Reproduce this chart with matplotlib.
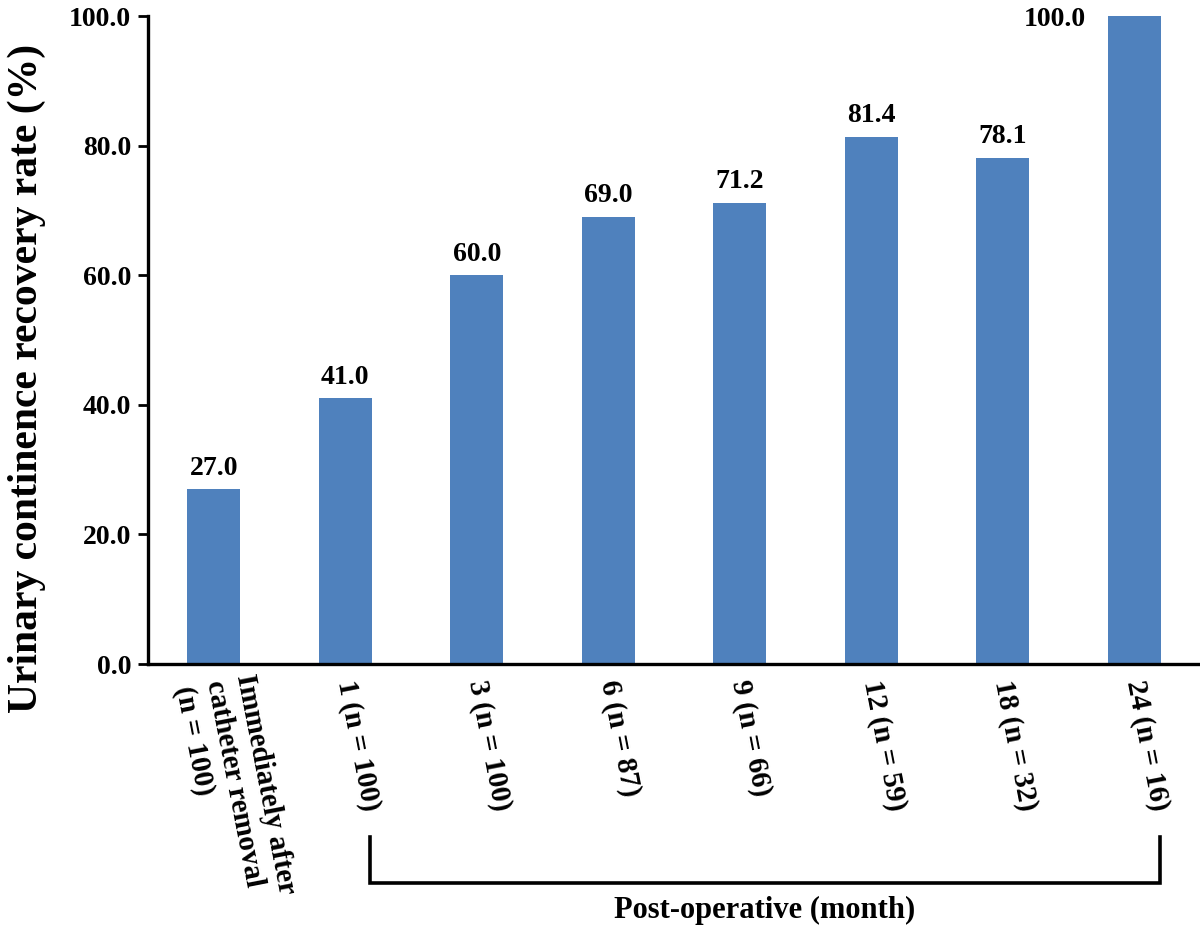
import matplotlib
matplotlib.use("Agg")
import matplotlib.pyplot as plt
import matplotlib.transforms as mtransforms

plt.rcParams["font.family"] = ["Liberation Serif", "DejaVu Serif"]

categories = ["Immediately after\ncatheter removal\n(n = 100)", "1 (n = 100)", "3 (n = 100)",
              "6 (n = 87)", "9 (n = 66)", "12 (n = 59)", "18 (n = 32)", "24 (n = 16)"]
rates = [27.0, 41.0, 60.0, 69.0, 71.2, 81.4, 78.1, 100.0]
yticks = [0, 20, 40, 60, 80, 100]

fig = plt.figure(figsize=(12, 9.26), dpi=100)
ax = fig.add_axes([148 / 1200, 1 - 664 / 926, 1052 / 1200, 648 / 926])

x = list(range(len(categories)))
bw = 0.4
ax.bar(x, rates, width=bw, color="#4F81BD", zorder=2)
for xi, v in zip(x, rates):
    if v >= 95:
        # no room above the top bar: label sits to its left
        ax.text(xi - bw / 2 - 0.17, v - 0.6, f"{v:.1f}", ha="right", va="center",
                fontsize=20, fontweight="bold")
    else:
        ax.text(xi, v + 1.3, f"{v:.1f}", ha="center", va="bottom", fontsize=20, fontweight="bold")

ax.set_xlim(-0.5, len(categories) - 0.5)
ax.set_ylim(0, 100)
ax.set_yticks(yticks)
ax.set_yticklabels([f"{t:.1f}" for t in yticks], fontsize=20, fontweight="bold")
ax.set_xticks(x)
xlabels = ax.set_xticklabels(categories, rotation=-79, rotation_mode="anchor", fontsize=21,
                             fontweight="bold", ha="left", va="center", multialignment="left")
# the three-line label sits a little left of its bar
xlabels[0].set_transform(xlabels[0].get_transform()
                         + mtransforms.ScaledTranslation(-0.12, 0, fig.dpi_scale_trans))
ax.tick_params(axis="x", length=0, pad=12)
ax.tick_params(axis="y", direction="out", length=7, width=2, pad=5)
for s in ["top", "right"]:
    ax.spines[s].set_visible(False)
for s in ["left", "bottom"]:
    ax.spines[s].set_linewidth(2.4)

ax.set_ylabel("Urinary continence recovery rate (%)", fontsize=30, fontweight="bold")
ax.yaxis.set_label_coords(-0.097, 0.44)

# bracket for post-operative months
trans = mtransforms.blended_transform_factory(ax.transData, ax.transAxes)
bx0, bx1 = 1.19, 7.195
ax.plot([bx0, bx0, bx1, bx1], [-0.267, -0.338, -0.338, -0.267], color="black", lw=2.6,
        transform=trans, clip_on=False, solid_joinstyle="miter")
ax.text((bx0 + bx1) / 2, -0.358, "Post-operative (month)", transform=trans, ha="center", va="top",
        fontsize=22, fontweight="bold")

fig.savefig("out.png", dpi=100)
